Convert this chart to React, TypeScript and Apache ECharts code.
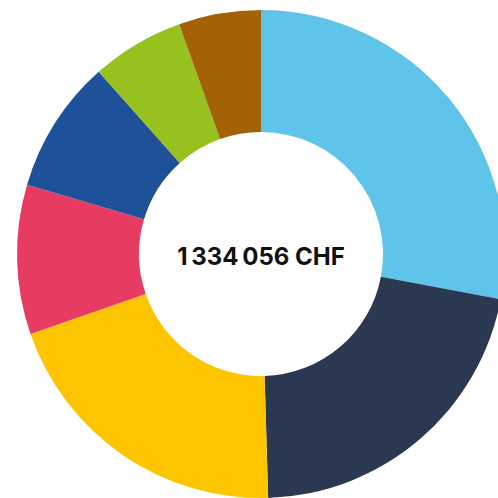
import React, { useEffect, useRef } from "react";
import * as echarts from "echarts";

const categories = ["A", "B", "C", "D", "E", "F", "G"];
const values = [373100, 287600, 268800, 132100, 117800, 81900, 72600];
const colors = ["#5EC4E9", "#2B3852", "#FDC400", "#E83B62", "#1F519B", "#97C11F", "#A26205"];
const centerLabel = "1\u2009334\u2009056 CHF";

export default function App() {
  const ref = useRef<HTMLDivElement>(null);
  useEffect(() => {
    if (!ref.current) return;
    const chart = echarts.init(ref.current, null, { renderer: "svg" });
    chart.setOption({
      animation: false,
      graphic: [
        {
          type: "text",
          x: 261,
          y: 256,
          style: {
            text: centerLabel,
            textAlign: "center",
            textVerticalAlign: "middle",
            fontFamily: "Inter, 'Noto Sans', sans-serif",
            fontWeight: 700,
            fontSize: 24,
            fill: "#111111",
          },
        },
      ],
      series: [
        {
          type: "pie",
          center: [261, 254],
          radius: [122, 244],
          startAngle: 90,
          clockwise: true,
          label: { show: false },
          labelLine: { show: false },
          emphasis: { disabled: true },
          itemStyle: { borderWidth: 0 },
          data: categories.map((c, i) => ({
            name: c,
            value: values[i],
            itemStyle: { color: colors[i] },
          })),
        },
      ],
    });
    return () => chart.dispose();
  }, []);
  return (
    <div
      ref={ref}
      style={{ position: "fixed", left: 0, top: 0, width: 498, height: 498, background: "#fff" }}
    />
  );
}
